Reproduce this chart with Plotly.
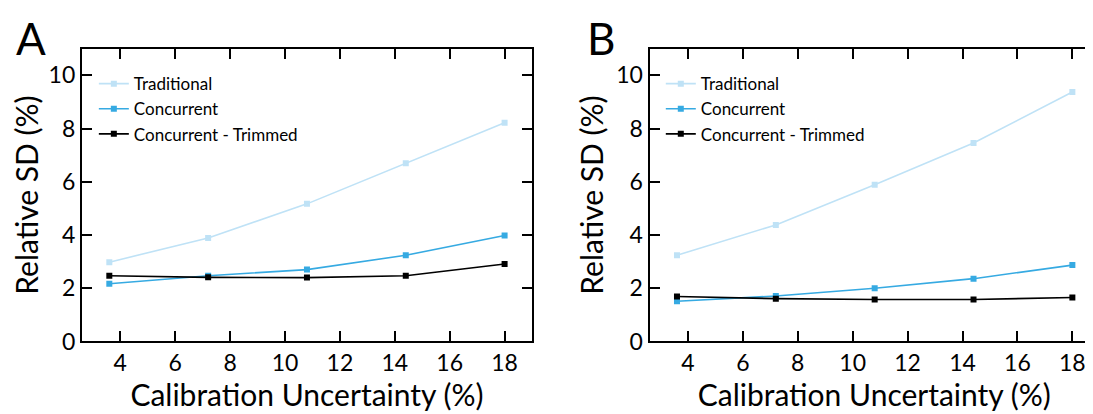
import plotly.graph_objects as go

# ---- data ----
calib_unc = [3.6, 7.2, 10.8, 14.4, 18.0]
series_names = ["Traditional", "Concurrent", "Concurrent - Trimmed"]

a_traditional = [2.98, 3.89, 5.17, 6.70, 8.22]
a_concurrent = [2.17, 2.47, 2.70, 3.24, 3.98]
a_trimmed = [2.47, 2.41, 2.40, 2.47, 2.91]

b_traditional = [3.24, 4.38, 5.89, 7.46, 9.37]
b_concurrent = [1.51, 1.71, 2.00, 2.36, 2.87]
b_trimmed = [1.69, 1.61, 1.58, 1.58, 1.65]

panel_labels = ["A", "B"]
x_ticks = [4, 6, 8, 10, 12, 14, 16, 18]
y_ticks = [0, 2, 4, 6, 8, 10]
x_title = "Calibration Uncertainty (%)"
y_title = "Relative SD (%)"

colors = ["#bfe2f6", "#36aae2", "#000000"]
FONT = "Lato"

W, H = 1093, 414
fig = go.Figure()

panels = [
    ("x", "y", "legend", [a_traditional, a_concurrent, a_trimmed]),
    ("x2", "y2", "legend2", [b_traditional, b_concurrent, b_trimmed]),
]
for xa, ya, lg, vals in panels:
    for name, v, c in zip(series_names, vals, colors):
        fig.add_trace(go.Scatter(
            x=calib_unc, y=v, name=name, mode="lines+markers",
            line=dict(color=c, width=1.6),
            marker=dict(symbol="square", size=6, color=c),
            xaxis=xa, yaxis=ya, legend=lg,
        ))

axis_common = dict(
    showline=True, linecolor="black", linewidth=2, mirror="ticks",
    ticks="inside", ticklen=10, tickwidth=2, tickcolor="black",
    showgrid=False, zeroline=False,
    tickfont=dict(family=FONT, size=23, color="black"),
)
title_font = dict(family=FONT, size=30, color="black")
ydom = [1 - 344.3 / H, 1 - 42 / H]
fig.update_layout(
    width=W, height=H, margin=dict(l=0, r=0, t=0, b=0),
    plot_bgcolor="white", paper_bgcolor="white",
    font=dict(family=FONT, color="black"),
    xaxis=dict(domain=[74 / W, 525 / W], range=[2.6, 19], tickvals=x_ticks,
               title=dict(text=x_title, font=title_font, standoff=2),
               anchor="y", **axis_common),
    yaxis=dict(domain=ydom, range=[0, 11], tickvals=y_ticks,
               title=dict(text=y_title, font=title_font, standoff=4),
               anchor="x", **axis_common),
    xaxis2=dict(domain=[642.7 / W, 1.0], range=[2.6, 18.97], tickvals=x_ticks,
                title=dict(text=x_title, font=title_font, standoff=2),
                anchor="y2", **axis_common),
    yaxis2=dict(domain=ydom, range=[0, 11], tickvals=y_ticks,
                title=dict(text=y_title, font=title_font, standoff=4),
                anchor="x2", **axis_common),
    legend=dict(x=86 / W, y=1 - 60 / H, xanchor="left", yanchor="top",
                bgcolor="rgba(0,0,0,0)", itemwidth=30, tracegroupgap=0,
                font=dict(family=FONT, size=17, color="black")),
    legend2=dict(x=654 / W, y=1 - 60 / H, xanchor="left", yanchor="top",
                 bgcolor="rgba(0,0,0,0)", itemwidth=30, tracegroupgap=0,
                 font=dict(family=FONT, size=17, color="black")),
    showlegend=True,
)

fig.add_annotation(text=panel_labels[0], x=6 / W, y=1 - 2 / H, xref="paper", yref="paper",
                   xanchor="left", yanchor="top", showarrow=False,
                   font=dict(family=FONT, size=44, color="black"))
fig.add_annotation(text=panel_labels[1], x=578 / W, y=1 - 2 / H, xref="paper", yref="paper",
                   xanchor="left", yanchor="top", showarrow=False,
                   font=dict(family=FONT, size=44, color="black"))

fig.write_html("out.html")
